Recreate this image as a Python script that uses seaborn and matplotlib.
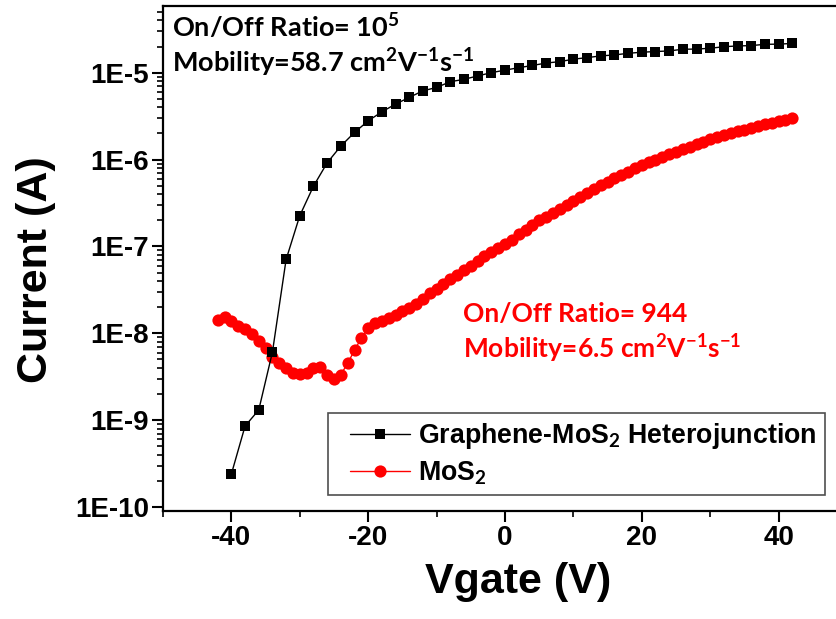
import numpy as np
import pandas as pd
import matplotlib
matplotlib.use("Agg")
import matplotlib.pyplot as plt
from matplotlib.lines import Line2D
from matplotlib.legend_handler import HandlerLine2D
from matplotlib.ticker import FixedLocator, FuncFormatter, LogLocator, NullFormatter, MultipleLocator
import seaborn as sns

# ---------------- data ----------------
hetero_v = [-40, -38, -36, -34, -32, -30, -28, -26, -24, -22, -20, -18, -16, -14,
            -12, -10, -8, -6, -4, -2, 0, 2, 4, 6, 8, 10, 12, 14, 16, 18, 20,
            22, 24, 26, 28, 30, 32, 34, 36, 38, 40, 42]
hetero_i = [2.4e-10, 8.55e-10, 1.31e-9, 6.08e-9, 7.08e-8, 2.26e-7, 4.94e-7, 9.16e-7,
            1.43e-6, 2.05e-6, 2.79e-6, 3.54e-6, 4.35e-6, 5.19e-6, 6.18e-6, 6.76e-6,
            7.87e-6, 8.38e-6, 9.17e-6, 1.0e-5, 1.07e-5, 1.14e-5, 1.21e-5, 1.29e-5,
            1.34e-5, 1.43e-5, 1.49e-5, 1.56e-5, 1.60e-5, 1.67e-5, 1.72e-5, 1.75e-5,
            1.78e-5, 1.86e-5, 1.87e-5, 1.91e-5, 1.99e-5, 2.03e-5, 2.05e-5, 2.12e-5,
            2.13e-5, 2.17e-5]

mos2_v = list(range(-42, 43))
mos2_i = [1.41e-8, 1.55e-8, 1.40e-8, 1.22e-8, 1.11e-8, 9.7e-9, 8.2e-9, 6.7e-9, 5.3e-9,
          4.5e-9, 4.0e-9, 3.5e-9, 3.4e-9, 3.5e-9, 4.0e-9, 4.1e-9, 3.3e-9, 3.0e-9,
          3.35e-9, 4.5e-9, 6.4e-9, 8.8e-9, 1.14e-8, 1.30e-8, 1.40e-8, 1.50e-8,
          1.64e-8, 1.80e-8, 1.97e-8, 2.19e-8, 2.51e-8, 2.88e-8, 3.24e-8, 3.72e-8,
          4.17e-8, 4.68e-8, 5.3e-8, 6.0e-8, 6.8e-8, 7.7e-8, 8.6e-8, 9.5e-8,
          1.07e-7, 1.20e-7, 1.38e-7, 1.55e-7, 1.78e-7, 2.0e-7, 2.19e-7, 2.43e-7,
          2.72e-7, 2.99e-7, 3.35e-7, 3.72e-7, 4.12e-7, 4.52e-7, 5.07e-7, 5.56e-7,
          6.1e-7, 6.68e-7, 7.24e-7, 7.94e-7, 8.7e-7, 9.3e-7, 1.0e-6, 1.07e-6,
          1.15e-6, 1.23e-6, 1.32e-6, 1.41e-6, 1.51e-6, 1.60e-6, 1.72e-6, 1.80e-6,
          1.93e-6, 2.02e-6, 2.11e-6, 2.21e-6, 2.32e-6, 2.43e-6, 2.54e-6, 2.66e-6,
          2.79e-6, 2.88e-6, 2.99e-6]

x_ticks = [-40, -20, 0, 20, 40]
y_ticks = [1e-10, 1e-9, 1e-8, 1e-7, 1e-6, 1e-5]

hetero_label = r"Graphene-MoS$_\mathbf{2}$ Heterojunction"
mos2_label = r"MoS$_\mathbf{2}$"
black_notes = [r"On/Off Ratio= 10$^{\mathbf{5}}$",
               r"Mobility=58.7 cm$^{\mathbf{2}}$V$^{\mathbf{-1}}$s$^{\mathbf{-1}}$"]
red_notes = [r"On/Off Ratio= 944",
             r"Mobility=6.5 cm$^{\mathbf{2}}$V$^{\mathbf{-1}}$s$^{\mathbf{-1}}$"]

# ---------------- style ----------------
sns.set_style("white")
axis_fam = ["Liberation Sans", "DejaVu Sans"]
plt.rcParams["font.family"] = ["Liberation Sans", "DejaVu Sans"]
plt.rcParams["font.weight"] = "bold"
plt.rcParams["text.color"] = "black"
plt.rcParams["axes.labelcolor"] = "black"
plt.rcParams["xtick.color"] = "black"
plt.rcParams["ytick.color"] = "black"
plt.rcParams["mathtext.fontset"] = "custom"
plt.rcParams["mathtext.rm"] = "Lato:bold"
plt.rcParams["mathtext.bf"] = "Lato:bold"
plt.rcParams["mathtext.it"] = "Lato:bold"

W, H = 837, 619
fig = plt.figure(figsize=(W / 100, H / 100), dpi=100)
ax = fig.add_axes([163 / W, 1 - 510.7 / H, 684 / W, 504.7 / H])

df_h = pd.DataFrame({"V": hetero_v, "I": hetero_i})
df_m = pd.DataFrame({"V": mos2_v, "I": mos2_i})

sns.lineplot(data=df_m, x="V", y="I", ax=ax, color="#ff0000", lw=1.0,
             marker="o", markersize=8.8, markeredgewidth=0, label=mos2_label,
             zorder=2)
sns.lineplot(data=df_h, x="V", y="I", ax=ax, color="black", lw=1.0,
             marker="s", markersize=7.8, markeredgewidth=0, label=hetero_label,
             zorder=3)

ax.set_yscale("log")
ax.set_xlim(-50, 50)
ax.set_ylim(10 ** -10.0426, 10 ** -4.2325)

ax.xaxis.set_major_locator(FixedLocator(x_ticks))
ax.xaxis.set_minor_locator(MultipleLocator(10))
ax.yaxis.set_major_locator(FixedLocator(y_ticks))
ax.yaxis.set_minor_locator(LogLocator(base=10, subs=np.arange(2, 10), numticks=20))
ax.yaxis.set_minor_formatter(NullFormatter())
ax.yaxis.set_major_formatter(FuncFormatter(lambda v, p: "1E%d" % int(round(np.log10(v)))))
ax.xaxis.set_major_formatter(FuncFormatter(lambda v, p: "%d" % v))

ax.tick_params(axis="both", which="major", direction="out", length=7.7, width=1.5,
               labelsize=20, pad=2.5, bottom=True, left=True)
ax.tick_params(axis="both", which="minor", direction="out", length=4.5, width=1.2,
               bottom=True, left=True)
for t in ax.get_xticklabels() + ax.get_yticklabels():
    t.set_fontweight("bold")
    t.set_family(axis_fam)

for s in ax.spines.values():
    s.set_linewidth(1.6)
    s.set_color("black")

ax.set_xlabel("Vgate (V)", fontsize=31, fontweight="bold", family=axis_fam)
ax.set_ylabel("Current (A)", fontsize=31, fontweight="bold", family=axis_fam)
ax.xaxis.set_label_coords((518 - 163) / 684, -(562 - 510.7) / 504.7)
ax.yaxis.label.set_va("center")
ax.yaxis.set_label_coords((36 - 163) / 684, (510.7 - 270) / 504.7)

# legend (black first)
handles, labels = ax.get_legend_handles_labels()
order = [labels.index(hetero_label), labels.index(mos2_label)]
leg = ax.legend([handles[i] for i in order], [labels[i] for i in order],
                loc="lower left", bbox_to_anchor=((328 - 163) / 684, (510.7 - 495) / 504.7),
                borderaxespad=0, frameon=True, fancybox=False, shadow=False,
                prop={"family": ["Liberation Sans", "DejaVu Sans"], "weight": "bold", "size": 19.3},
                handlelength=2.76, handletextpad=0.3, borderpad=0.3, labelspacing=0.33,
                handler_map={Line2D: HandlerLine2D(xpad=0.52)})
leg.get_frame().set_edgecolor("#222222")
leg.get_frame().set_linewidth(1.2)

note_font = ["Lato", "DejaVu Sans"]
fig.text(172 / W, 1 - 37 / H, black_notes[0], color="black", fontsize=19.5,
         fontweight="bold", family=note_font, va="baseline", ha="left")
fig.text(172 / W, 1 - 72 / H, black_notes[1], color="black", fontsize=19.5,
         fontweight="bold", family=note_font, va="baseline", ha="left")
fig.text(463 / W, 1 - 322 / H, red_notes[0], color="#ff0000", fontsize=19,
         fontweight="bold", family=note_font, va="baseline", ha="left")
fig.text(463 / W, 1 - 358 / H, red_notes[1], color="#ff0000", fontsize=19,
         fontweight="bold", family=note_font, va="baseline", ha="left")

fig.savefig("out.png", dpi=100)
